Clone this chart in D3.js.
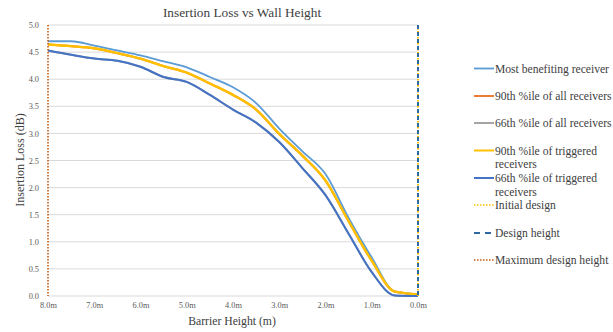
<!DOCTYPE html>
<html>
<head>
<meta charset="utf-8">
<script src="https://cdn.jsdelivr.net/npm/d3@7"></script>
<style>
  html, body { margin: 0; padding: 0; background: #fff; overflow: hidden; }
  svg { display: block; }
  svg text { font-family: "Liberation Serif", "Times New Roman", "DejaVu Serif", serif !important; }
</style>
</head>
<body>
<svg id="chart" width="613" height="332"></svg>
<script>
// ---- data ----
const heights = [8.0, 7.5, 7.0, 6.5, 6.0, 5.5, 5.0, 4.5, 4.0, 3.5, 3.0, 2.5, 2.0, 1.5, 1.0, 0.5, 0.0];
const xTickValues = [8, 7, 6, 5, 4, 3, 2, 1, 0];
const xTickLabels = ["8.0m", "7.0m", "6.0m", "5.0m", "4.0m", "3.0m", "2.0m", "1.0m", "0.0m"];
const yTickValues = [0, 0.5, 1, 1.5, 2, 2.5, 3, 3.5, 4, 4.5, 5];

const mostBenefiting = [4.70, 4.70, 4.62, 4.53, 4.44, 4.33, 4.22, 4.04, 3.85, 3.56, 3.09, 2.67, 2.25, 1.44, 0.71, 0.08, 0.03];
const p90All        = [4.64, 4.61, 4.57, 4.48, 4.38, 4.24, 4.12, 3.92, 3.71, 3.44, 2.99, 2.59, 2.13, 1.38, 0.65, 0.08, 0.03];
const p66All        = [4.53, 4.45, 4.38, 4.34, 4.23, 4.04, 3.95, 3.71, 3.44, 3.20, 2.84, 2.36, 1.86, 1.15, 0.44, 0.01, 0.00];
const p90Triggered  = [4.64, 4.61, 4.57, 4.48, 4.38, 4.24, 4.12, 3.92, 3.71, 3.44, 2.99, 2.59, 2.13, 1.38, 0.65, 0.08, 0.03];
const p66Triggered  = [4.53, 4.45, 4.38, 4.34, 4.23, 4.04, 3.95, 3.71, 3.44, 3.20, 2.84, 2.36, 1.86, 1.15, 0.44, 0.01, 0.00];

const initialDesign = 0.0;     // barrier height (m)
const designHeight = 0.0;      // barrier height (m)
const maxDesignHeight = 8.0;   // barrier height (m)

const seriesNames = ["Most benefiting receiver", "90th %ile of all receivers", "66th %ile of all receivers",
  "90th %ile of triggered receivers", "66th %ile of triggered receivers"];

// ---- layout ----
const FONT = '"Liberation Serif", "Times New Roman", serif';
const svg = d3.select("#chart");
const x = d3.scaleLinear().domain([8, 0]).range([48, 418]);
const y = d3.scaleLinear().domain([0, 5]).range([296, 25]);

const gridColor = "#D9D9D9";
const textColor = "#595959";

// gridlines
svg.append("g").selectAll("line").data(yTickValues).join("line")
  .attr("x1", x(8)).attr("x2", x(0))
  .attr("y1", d => y(d)).attr("y2", d => y(d))
  .attr("stroke", gridColor).attr("stroke-width", 1);

// y axis labels
const yAxis = d3.axisLeft(y).tickValues(yTickValues).tickFormat(d3.format(".1f")).tickSize(0).tickPadding(0);
const gy = svg.append("g").attr("transform", `translate(${x(8) - 9},0)`).call(yAxis)
  .attr("font-family", FONT);
gy.select(".domain").remove();
gy.selectAll("text").style("font-family", FONT).attr("font-size", 8.3).attr("fill", textColor);

// x axis labels
const xAxis = d3.axisBottom(x).tickValues(xTickValues).tickFormat((d, i) => xTickLabels[i]).tickSize(0).tickPadding(0);
const gx = svg.append("g").attr("transform", `translate(0,${y(0) + 6})`).call(xAxis)
  .attr("font-family", FONT);
gx.select(".domain").remove();
gx.selectAll("text").style("font-family", FONT).attr("font-size", 8.3).attr("fill", textColor);

// title + axis titles
svg.append("text").attr("x", 242).attr("y", 17).attr("text-anchor", "middle").style("font-family", FONT)
  .attr("font-size", 13.3).attr("fill", "#404040").text("Insertion Loss vs Wall Height");
svg.append("text").attr("x", 232).attr("y", 325).attr("text-anchor", "middle").style("font-family", FONT)
  .attr("font-size", 11.7).attr("fill", "#404040").text("Barrier Height (m)");
svg.append("text").attr("transform", "translate(24,160) rotate(-90)").attr("text-anchor", "middle").style("font-family", FONT)
  .attr("font-size", 12).attr("fill", "#404040").text("Insertion Loss (dB)");

// series lines
const line = d3.line().x((d, i) => x(heights[i])).y(d => y(d)).curve(d3.curveMonotoneX);
const series = [
  { name: seriesNames[1], values: p90All, color: "#ED7D31", width: 2.2 },
  { name: seriesNames[2], values: p66All, color: "#A5A5A5", width: 2.0 },
  { name: seriesNames[0], values: mostBenefiting, color: "#5B9BD5", width: 1.8 },
  { name: seriesNames[3], values: p90Triggered, color: "#FFC000", width: 2.4 },
  { name: seriesNames[4], values: p66Triggered, color: "#4472C4", width: 2.0 }
];
svg.append("g").selectAll("path").data(series).join("path")
  .attr("d", d => line(d.values))
  .attr("fill", "none")
  .attr("stroke", d => d.color)
  .attr("stroke-width", d => d.width)
  .attr("stroke-linejoin", "round");

// vertical design lines
const vlines = [
  { h: maxDesignHeight, color: "#C55A11", dash: "1.5,1.5", width: 1.6 },
  { h: initialDesign, color: "#FFC000", dash: "1.5,1.5", width: 2 },
  { h: designHeight, color: "#2E6AA1", dash: "4,3", width: 2 }
];
svg.append("g").selectAll("line").data(vlines).join("line")
  .attr("x1", d => x(d.h)).attr("x2", d => x(d.h))
  .attr("y1", y(5)).attr("y2", y(0))
  .attr("stroke", d => d.color)
  .attr("stroke-width", d => d.width)
  .attr("stroke-dasharray", d => d.dash);

// legend
const legendItems = [
  { lines: ["Most benefiting receiver"], color: "#5B9BD5", dash: null, w: 1.8, y: 68.5 },
  { lines: ["90th %ile of all receivers"], color: "#ED7D31", dash: null, w: 2, y: 96 },
  { lines: ["66th %ile of all receivers"], color: "#A5A5A5", dash: null, w: 2, y: 123 },
  { lines: ["90th %ile of triggered", "receivers"], color: "#FFC000", dash: null, w: 2, y: 150.5 },
  { lines: ["66th %ile of triggered", "receivers"], color: "#4472C4", dash: null, w: 2, y: 178 },
  { lines: ["Initial design"], color: "#FFC000", dash: "1.5,1.5", w: 1.6, y: 205 },
  { lines: ["Design height"], color: "#2E6AA1", dash: "6,5", w: 2, y: 233 },
  { lines: ["Maximum design height"], color: "#C55A11", dash: "1.5,1.5", w: 1.6, y: 260 }
];
const lg = svg.append("g").selectAll("g").data(legendItems).join("g");
lg.append("line")
  .attr("x1", 474).attr("x2", 494)
  .attr("y1", d => d.y).attr("y2", d => d.y)
  .attr("stroke", d => d.color).attr("stroke-width", d => d.w)
  .attr("stroke-dasharray", d => d.dash);
lg.each(function(d) {
  const t = d3.select(this).append("text")
    .attr("x", 495).attr("y", d.y + 4).style("font-family", FONT)
    .attr("font-size", 11.6).attr("fill", "#404040");
  d.lines.forEach((s, i) => {
    t.append("tspan").attr("x", 495).attr("dy", i === 0 ? 0 : 13.5).text(s);
  });
});
</script>
</body>
</html>
